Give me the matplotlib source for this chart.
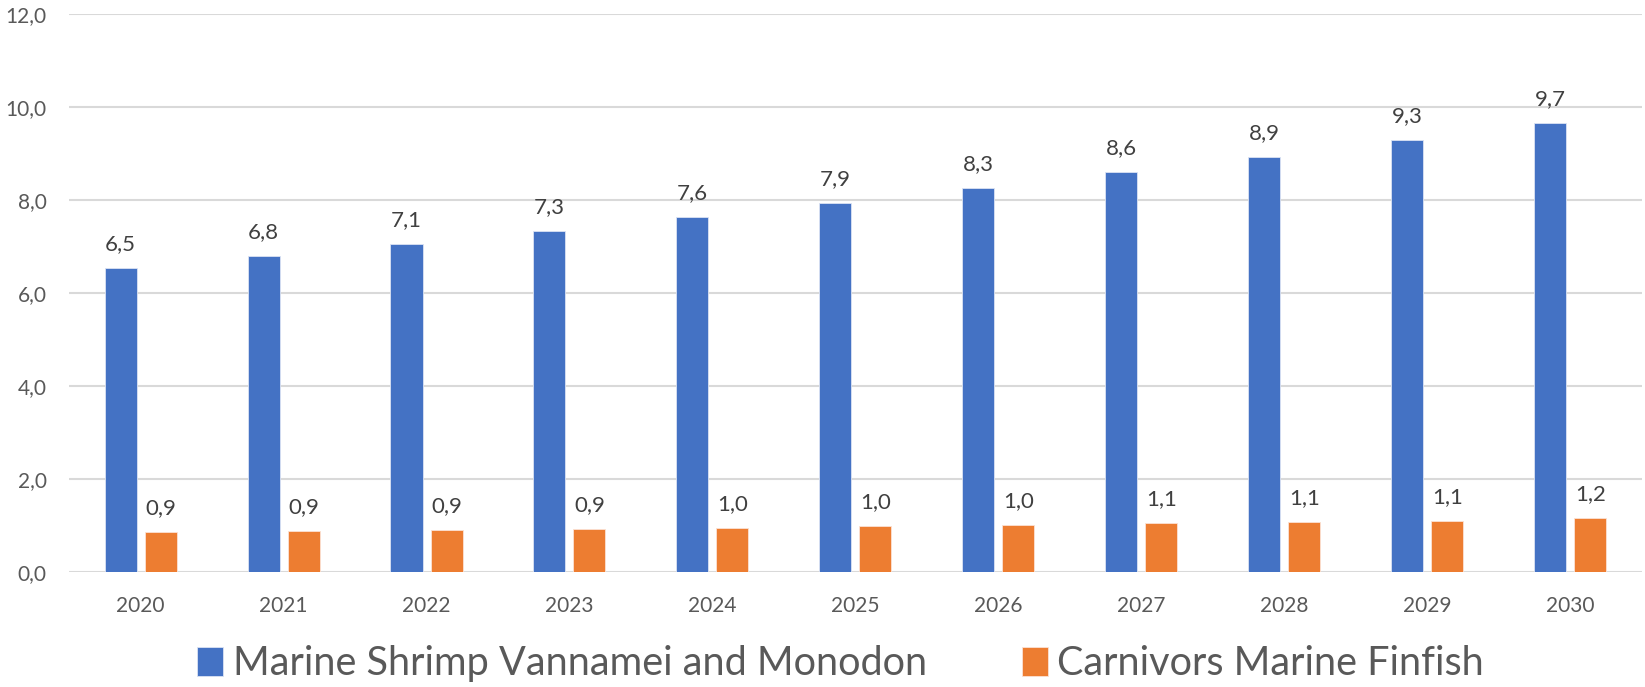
import numpy as np
import matplotlib
matplotlib.use("Agg")
import matplotlib.pyplot as plt

# data
years = ["2020", "2021", "2022", "2023", "2024", "2025", "2026", "2027", "2028", "2029", "2030"]
shrimp = [6.53, 6.79, 7.06, 7.34, 7.64, 7.94, 8.26, 8.59, 8.93, 9.29, 9.66]
finfish = [0.86, 0.89, 0.91, 0.93, 0.96, 0.99, 1.02, 1.05, 1.08, 1.11, 1.16]
labels = ["Marine Shrimp Vannamei and Monodon", "Carnivors Marine Finfish"]

plt.rcParams['font.family'] = ['Lato', 'DejaVu Sans']

fig = plt.figure(figsize=(16.45, 6.87), dpi=100)
ax = fig.add_axes([0.042, 0.167, 0.956, 0.813])

x = np.arange(len(years))
w = 0.224
off = 0.14
b1 = ax.bar(x - off, shrimp, w, color="#4472c4", edgecolor="#dbe3f3", linewidth=0.6, label=labels[0], zorder=3)
b2 = ax.bar(x + off, finfish, w, color="#ed7d31", edgecolor="#fbe2d4", linewidth=0.6, label=labels[1], zorder=3)

for bars in (b1, b2):
    for r in bars:
        h = r.get_height()
        ax.annotate(f"{h:.1f}".replace(".", ","), (r.get_x() + r.get_width() / 2, h),
                    xytext=(0, 10), textcoords="offset points", ha="center", va="bottom",
                    fontsize=16, color="#404040")

ax.set_xlim(-0.5, len(years) - 0.5)
ax.set_ylim(0, 12)
ax.set_yticks(np.arange(0, 12.1, 2))
ax.set_yticklabels([f"{v:.1f}".replace(".", ",") for v in np.arange(0, 12.1, 2)])
ax.set_xticks(x)
ax.set_xticklabels(years)
ax.tick_params(axis="both", length=0, labelsize=15, labelcolor="#595959")
ax.tick_params(axis="y", pad=16)
ax.tick_params(axis="x", pad=17)

ax.grid(axis="y", color="#d9d9d9", linewidth=1.5, zorder=0)
for s in ax.spines.values():
    s.set_visible(False)

fig.legend(handles=[b1, b2], labels=labels, loc="lower center", bbox_to_anchor=(0.511, -0.045),
           ncol=2, frameon=False, fontsize=28.5, labelcolor="#595959", handlelength=0.65,
           handleheight=0.75, handletextpad=0.25, columnspacing=2.4)

fig.savefig("out.png", dpi=100)
